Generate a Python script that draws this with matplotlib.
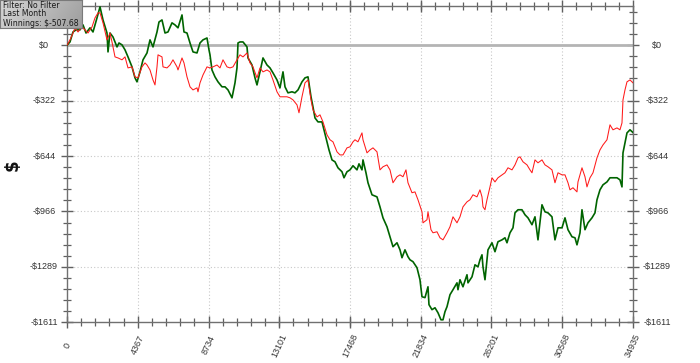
import numpy as np
import matplotlib
matplotlib.use("Agg")
import matplotlib.pyplot as plt
from matplotlib.transforms import blended_transform_factory

# --- data (hands played, winnings in $) ---
green_hands = [0, 185, 370, 555, 802, 988, 1173, 1420, 1605, 1852, 2037, 2222, 2469, 2531, 2654,
               2839, 3086, 3209, 3395, 3580, 3765, 4012, 4197, 4320, 4506, 4691, 4938, 5123, 5308,
               5555, 5678, 5863, 6049, 6234, 6481, 6666, 6851, 7098, 7221, 7406, 7592, 7777, 8024,
               8209, 8394, 8641, 8764, 8826, 8949, 9134, 9320, 9567, 9752, 9937, 10184, 10369,
               10492, 10554, 10678, 10863, 11110, 11171, 11418, 11603, 11727, 11912, 12097, 12344,
               12529, 12714, 12961, 13146, 13332, 13455, 13640, 13887, 14072, 14258, 14504, 14689,
               14875, 15060, 15183, 15307, 15492, 15739, 15862, 16047, 16171, 16356, 16541, 16726,
               16973, 17097, 17282, 17467, 17652, 17899, 18022, 18207, 18269, 18454, 18578, 18825,
               19133, 19318, 19504, 19750, 19936, 20121, 20368, 20553, 20676, 20861, 21046, 21170,
               21355, 21602, 21787, 21911, 22096, 22281, 22342, 22528, 22713, 22898, 23083, 23207,
               23330, 23454, 23639, 23824, 24071, 24132, 24256, 24441, 24688, 24750, 24997, 25182,
               25367, 25490, 25614, 25676, 25799, 25922, 25984, 26231, 26416, 26601, 26848, 27033,
               27157, 27342, 27527, 27651, 27836, 28083, 28268, 28453, 28700, 28885, 29070, 29317,
               29502, 29687, 29934, 30119, 30305, 30552, 30737, 30922, 31169, 31354, 31477, 31663,
               31786, 31971, 32156, 32403, 32588, 32712, 32897, 33082, 33329, 33514, 33699, 33946,
               34131, 34255, 34317, 34440, 34564, 34749, 34935]
green_won = [0, 19, 77, 89, 89, 118, 71, 101, 77, 159, 223, 147, 71, -39, 71,
             48, -10, 13, 2, -27, -68, -126, -190, -213, -155, -85, -45, 31, -10,
             77, 135, 147, 71, 77, 130, 118, 101, 176, 77, 71, 13, -39, -45,
             13, 31, 42, -27, -56, -144, -184, -213, -242, -242, -260, -306, -219,
             -132, 13, 19, 19, -10, -74, -115, -190, -231, -155, -74, -115,
             -132, -161, -202, -248, -155, -242, -277, -271, -277, -260, -213, -190,
             -184, -300, -359, -423, -446, -446, -492, -562, -609, -667, -678, -713,
             -736, -771, -736, -725, -701, -725, -690, -725, -667, -742, -800, -870,
             -882, -940, -1004, -1056, -1114, -1172, -1149, -1190, -1236, -1190, -1230, -1248,
             -1259, -1294, -1364, -1463, -1468, -1405, -1509, -1538, -1527, -1556, -1597, -1597,
             -1550, -1521, -1451, -1422, -1382, -1422, -1364, -1405, -1335, -1382, -1347, -1277,
             -1289, -1248, -1219, -1289, -1364, -1248, -1190, -1149, -1201, -1143, -1132, -1120,
             -1149, -1091, -1062, -975, -957, -957, -986, -1004, -1044, -998, -1132, -928,
             -969, -975, -998, -1132, -1062, -1062, -1004, -1073, -1114, -1120, -1161, -1091,
             -957, -1073, -1033, -1004, -975, -899, -841, -812, -795, -771, -771, -771,
             -783, -824, -626, -568, -510, -492, -508]

red_hands = [0, 185, 370, 494, 679, 926, 1111, 1296, 1543, 1728, 1913, 2037, 2222, 2469, 2654,
             2777, 2963, 3148, 3395, 3580, 3765, 4012, 4197, 4382, 4629, 4814, 4938, 5123, 5308,
             5431, 5555, 5617, 5863, 5925, 6172, 6357, 6542, 6789, 6851, 7098, 7221, 7406, 7592,
             7777, 8024, 8085, 8209, 8394, 8641, 8826, 9011, 9258, 9443, 9628, 9875, 10060,
             10246, 10492, 10678, 10863, 11110, 11295, 11480, 11727, 11912, 12097, 12344, 12529,
             12714, 12961, 13146, 13332, 13578, 13764, 13949, 14196, 14319, 14504, 14689, 14875,
             15060, 15183, 15430, 15615, 15800, 16047, 16232, 16418, 16664, 16850, 17035, 17282,
             17467, 17652, 17775, 17960, 18207, 18269, 18516, 18701, 18886, 19133, 19318, 19504,
             19750, 19936, 20121, 20368, 20553, 20738, 20923, 21046, 21293, 21478, 21664, 21911,
             21972, 22219, 22281, 22466, 22589, 22836, 23021, 23207, 23454, 23639, 23824, 24071,
             24256, 24441, 24688, 24873, 25058, 25305, 25490, 25614, 25676, 25799, 25922, 26108,
             26231, 26416, 26601, 26848, 27033, 27219, 27466, 27651, 27836, 27959, 28144, 28392,
             28577, 28700, 28885, 29070, 29317, 29502, 29687, 29934, 30119, 30305, 30552, 30737,
             30922, 31045, 31231, 31477, 31539, 31786, 31971, 32094, 32280, 32465, 32712, 32897,
             33082, 33329, 33514, 33699, 33946, 34131, 34255, 34317, 34440, 34564, 34749, 34935]
red_won = [0, 31, 71, 101, 77, 106, 89, 71, 106, 159, 188, 188, 130, 31, 71,
           19, -68, -74, -85, -68, -132, -126, -184, -190, -126, -103, -115, -144, -202,
           -231, -126, -56, -68, -126, -132, -115, -85, -126, -144, -74, -103, -184, -242,
           -260, -248, -271, -219, -173, -126, -132, -126, -115, -132, -85, -126, -132,
           -126, -85, -56, -68, -45, -103, -126, -190, -132, -155, -144, -155,
           -202, -271, -300, -300, -300, -306, -318, -347, -393, -300, -219, -202,
           -318, -376, -417, -405, -446, -521, -550, -562, -620, -638, -638, -597,
           -591, -562, -550, -562, -510, -550, -626, -609, -597, -620, -725, -707,
           -696, -725, -800, -765, -754, -765, -725, -800, -858, -853, -899, -969,
           -1033, -1015, -969, -1073, -1091, -1085, -1120, -1132, -1091, -1056, -998, -1033,
           -998, -940, -911, -899, -870, -882, -841, -882, -940, -957, -899, -824,
           -771, -795, -771, -754, -742, -713, -725, -696, -655, -649, -678, -696,
           -725, -742, -667, -684, -667, -696, -707, -725, -800, -742, -754, -754,
           -800, -841, -829, -853, -795, -713, -765, -824, -771, -742, -655, -609,
           -580, -550, -463, -492, -481, -492, -452, -318, -260, -213, -202, -219]

x_ticks = [0, 4367, 8734, 13101, 17468, 21834, 26201, 30568, 34935]
y_ticks = [0, -322.3, -644.6, -966.9, -1289.2, -1611.5]
y_labels = ["$0", "-$322", "-$644", "-$966", "-$1289", "-$1611"]
info_lines = ["Filter: No Filter", "Last Month", "Winnings: $-507.68"]

W, H = 700, 363
fig = plt.figure(figsize=(W / 100, H / 100), dpi=100)
ax = fig.add_axes([67 / W, 1 - 322.3 / H, 566 / W, (322.3 - 6) / H])

ax.plot(green_hands, green_won, color="#006400", lw=1.2, zorder=3)
ax.plot(red_hands, red_won, color="#ff1a1a", lw=0.75, zorder=4)

ax.set_xlim(0, 34935)
ax.set_ylim(-1611.5, 228)

# grid + zero line
for xt in x_ticks[1:-1]:
    ax.axvline(xt, color="#c8c8c8", lw=0.8, ls=(0, (1, 2)), zorder=1)
for yt in y_ticks[1:-1]:
    ax.axhline(yt, color="#c8c8c8", lw=0.8, ls=(0, (1, 2)), zorder=1)
ax.axhline(0, color="#b4b4b4", lw=2, zorder=2)

# ticks
ax.set_xticks(x_ticks)
ax.set_yticks(y_ticks)
ax.set_xticks(np.arange(0, 34936, 34935 / 40), minor=True)
ax.set_yticks(np.arange(-1611.5, 228, 322.3 / 5), minor=True)
ax.tick_params(which="both", direction="inout", colors="#606060",
               top=True, right=True, labelleft=False, labelbottom=False)
ax.tick_params(which="major", length=8, width=1)
ax.tick_params(which="minor", length=6, width=0.9)
for s in ax.spines.values():
    s.set_color("#707070")
    s.set_linewidth(1)

# tick labels centred like the original
ty = blended_transform_factory(ax.transAxes, ax.transData)
for yt, lab in zip(y_ticks, y_labels):
    ax.text(-23 / 566, yt, lab, transform=ty, ha="center", va="center",
            fontsize=6.5, color="#333333", family="Liberation Sans", clip_on=False)
    ax.text(1 + 24 / 566, yt, lab, transform=ty, ha="center", va="center",
            fontsize=6.5, color="#333333", family="Liberation Sans", clip_on=False)
tx = blended_transform_factory(ax.transData, ax.transAxes)
for xt in x_ticks:
    ax.text(xt, -23 / 316.3, str(xt), transform=tx, ha="center", va="center",
            rotation=65, fontsize=6.5, color="#333333", family="Liberation Sans",
            clip_on=False)

fig.text(13 / W, 1 - 165 / H, "$", rotation=90, ha="center", va="center",
         fontsize=12, fontweight="bold", color="#111111")

# info box top-left (grey gradient)
bx = fig.add_axes([0, 1 - 28 / H, 82 / W, 28 / H])
gx = np.linspace(0, 1, 80)[None, :]
gy = np.linspace(0, 1, 28)[:, None]
shade = 0.84 - 0.18 * gx - 0.04 * gy
img = np.dstack([shade, shade, shade])
bx.imshow(img, aspect="auto", extent=[0, 1, 0, 1])
bx.set_xticks([])
bx.set_yticks([])
for s in bx.spines.values():
    s.set_color("#7a7a7a")
    s.set_linewidth(0.8)
for i, line in enumerate(info_lines):
    bx.text(3 / 82, 1 - (5 + 9 * i) / 28, line, transform=bx.transAxes, ha="left",
            va="center", fontsize=5.6, color="#1a1a1a")

fig.savefig("out.png", dpi=100)
